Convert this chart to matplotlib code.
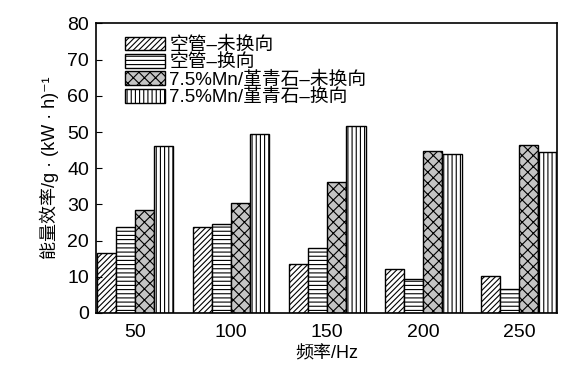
import numpy as np
import matplotlib
matplotlib.use('Agg')
import matplotlib.pyplot as plt

plt.rcParams['font.family'] = ['Liberation Sans', 'Noto Sans CJK SC', 'DejaVu Sans']
plt.rcParams['hatch.linewidth'] = 0.8

# data
freqs = ['50', '100', '150', '200', '250']
labels = ['空管–未换向', '空管–换向', '7.5%Mn/堇青石–未换向', '7.5%Mn/堇青石–换向']
empty_fixed = [16.5, 23.7, 13.5, 12.1, 10.2]
empty_rev = [23.7, 24.6, 18.0, 9.4, 6.6]
mn_fixed = [28.5, 30.4, 36.3, 44.8, 46.3]
mn_rev = [46.2, 49.5, 51.6, 44.0, 44.5]

series = [empty_fixed, empty_rev, mn_fixed, mn_rev]
hatches = ['//////', '----', 'xxx', '||||']
faces = ['white', 'white', '#c4c4c4', 'white']

fig = plt.figure(figsize=(5.75, 3.78), dpi=100)
ax = fig.add_axes([0.167, 0.172, 0.802, 0.766])

x = np.arange(len(freqs))
w = 0.2
for i, vals in enumerate(series):
    ax.bar(x - 0.3 + i * w, vals, width=w, facecolor=faces[i], edgecolor='black',
           hatch=hatches[i], linewidth=1.0, label=labels[i])

ax.set_xlim(-0.405, 4.395)
ax.set_ylim(0, 80)
ax.set_xticks(x)
ax.set_xticklabels(freqs)
ax.set_yticks(np.arange(0, 81, 10))
ax.tick_params(axis='x', length=0, labelsize=14, pad=8)
ax.tick_params(axis='y', direction='in', length=4, labelsize=14, pad=5)
for s in ax.spines.values():
    s.set_linewidth(1.2)

ax.set_xlabel('频率/Hz', fontsize=13, labelpad=3)
ax.set_ylabel('能量效率/g · (kW · h)⁻¹', fontsize=13, labelpad=6)

leg = ax.legend(loc='upper left', bbox_to_anchor=(0.035, 1.0), frameon=False,
                fontsize=13.5, labelspacing=0.0, handlelength=2.1, handleheight=0.75,
                handletextpad=0.25, borderpad=0.2)

fig.savefig('out.png', dpi=100)
